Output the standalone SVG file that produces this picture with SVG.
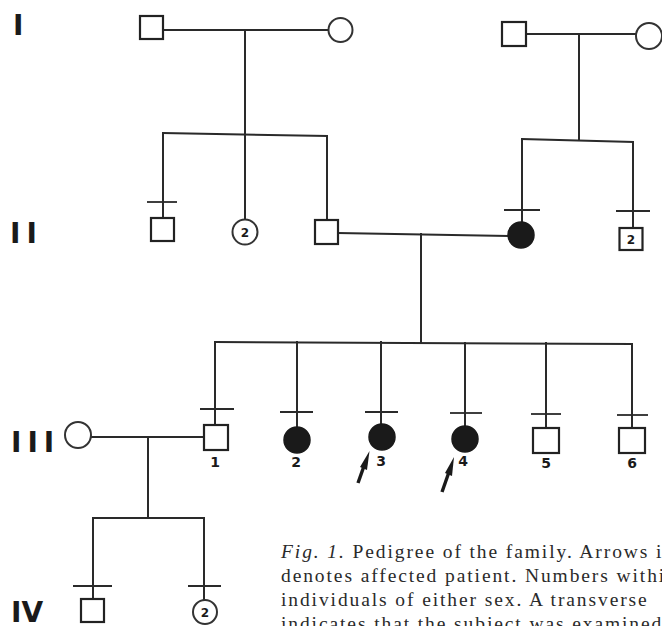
<svg xmlns="http://www.w3.org/2000/svg" width="662" height="626" viewBox="0 0 662 626">
<style>
.ln{stroke:#2a2a2a;stroke-width:2;fill:none;stroke-linecap:square}
.tk{stroke:#2a2a2a;stroke-width:1.8;fill:none}
.sq{stroke:#222;stroke-width:2.2;fill:#fff}
.ci{stroke:#333;stroke-width:2;fill:#fff}
.af{stroke:#1a1a1a;stroke-width:1.5;fill:#1a1a1a}
.gen{font-family:"DejaVu Sans",sans-serif;font-weight:bold;font-size:28px;fill:#1a1a1a}
.num{font-family:"DejaVu Sans",sans-serif;font-weight:bold;font-size:14px;fill:#1a1a1a;text-anchor:middle}
.in{font-family:"DejaVu Sans",sans-serif;font-weight:bold;font-size:12px;fill:#1a1a1a;text-anchor:middle}
.cap{font-family:"Liberation Serif","Times New Roman",serif;font-size:19.5px;fill:#2a2a2a;letter-spacing:1.9px}
</style>
<rect width="662" height="626" fill="#fff"/>
<g id="gen-labels">
<text class="gen" x="13" y="35" font-size="26">I</text>
<text class="gen" x="10" y="243" letter-spacing="6">II</text>
<text class="gen" x="11" y="452" letter-spacing="6">III</text>
<text class="gen" x="11" y="622">IV</text>
</g>
<g id="connectors">
<line class="ln" x1="163" y1="30" x2="328" y2="30"/>
<line class="ln" x1="245" y1="30" x2="245" y2="219"/>
<line class="ln" x1="163" y1="133" x2="327" y2="136"/>
<line class="ln" x1="163" y1="133" x2="163" y2="218"/>
<line class="ln" x1="327" y1="136" x2="327" y2="220"/>
<line class="ln" x1="526" y1="34" x2="636" y2="34"/>
<line class="ln" x1="579" y1="34" x2="579" y2="140"/>
<line class="ln" x1="522" y1="139" x2="633" y2="142"/>
<line class="ln" x1="522" y1="139" x2="522" y2="222"/>
<line class="ln" x1="633" y1="142" x2="633" y2="228"/>
<line class="ln" x1="338" y1="233" x2="508" y2="236"/>
<line class="ln" x1="421" y1="234" x2="421" y2="343"/>
<line class="ln" x1="215" y1="342" x2="632" y2="344"/>
<line class="ln" x1="215" y1="342" x2="215" y2="425"/>
<line class="ln" x1="297" y1="342" x2="297" y2="427"/>
<line class="ln" x1="381" y1="342" x2="381" y2="424"/>
<line class="ln" x1="465" y1="343" x2="465" y2="426"/>
<line class="ln" x1="546" y1="343" x2="546" y2="428"/>
<line class="ln" x1="632" y1="344" x2="632" y2="428"/>
<line class="ln" x1="91" y1="437" x2="204" y2="437"/>
<line class="ln" x1="148" y1="437" x2="148" y2="518"/>
<line class="ln" x1="93" y1="518" x2="204" y2="518"/>
<line class="ln" x1="93" y1="518" x2="93" y2="599"/>
<line class="ln" x1="204" y1="518" x2="204" y2="600"/>
<line class="tk" x1="147" y1="202" x2="177" y2="202"/>
<line class="tk" x1="504" y1="210" x2="540" y2="210"/>
<line class="tk" x1="616" y1="211" x2="650" y2="211"/>
<line class="tk" x1="200" y1="409" x2="234" y2="409"/>
<line class="tk" x1="280" y1="412" x2="313" y2="412"/>
<line class="tk" x1="365" y1="412" x2="398" y2="412"/>
<line class="tk" x1="450" y1="413" x2="482" y2="413"/>
<line class="tk" x1="531" y1="414" x2="561" y2="414"/>
<line class="tk" x1="617" y1="415" x2="648" y2="415"/>
<line class="tk" x1="73" y1="586" x2="112" y2="586"/>
<line class="tk" x1="188" y1="586" x2="221" y2="586"/>
</g>
<g id="I-1"><rect class="sq" x="140" y="16" width="23" height="23"/></g>
<g id="I-2"><circle class="ci" cx="340.5" cy="30" r="12"/></g>
<g id="I-3"><rect class="sq" x="502" y="22" width="24" height="24"/></g>
<g id="I-4"><circle class="ci" cx="649" cy="36" r="13"/></g>
<g id="II-1"><rect class="sq" x="151" y="218" width="23" height="23"/></g>
<g id="II-2"><circle class="ci" cx="245" cy="232" r="12.5"/><text class="in" x="245" y="236.5">2</text></g>
<g id="II-3"><rect class="sq" x="315" y="220" width="23" height="24"/></g>
<g id="II-4"><circle class="af" cx="521" cy="235" r="13"/></g>
<g id="II-5"><rect class="sq" x="619.5" y="228" width="23" height="22"/><text class="in" x="631" y="243.5">2</text></g>
<g id="III-spouse"><circle class="ci" cx="78" cy="435" r="13"/></g>
<g id="III-1"><rect class="sq" x="204" y="425" width="24" height="25"/><text class="num" x="215" y="467">1</text></g>
<g id="III-2"><circle class="af" cx="297" cy="440" r="13"/><text class="num" x="296" y="467">2</text></g>
<g id="III-3"><circle class="af" cx="382" cy="437" r="13"/><text class="num" x="381" y="466">3</text>
<line x1="358" y1="483" x2="364" y2="466" stroke="#1a1a1a" stroke-width="3.4"/><polygon points="369.5,451 367,470 360,467" fill="#1a1a1a"/></g>
<g id="III-4"><circle class="af" cx="465" cy="439" r="13"/><text class="num" x="463" y="466">4</text>
<line x1="442" y1="492" x2="449" y2="472" stroke="#1a1a1a" stroke-width="3.4"/><polygon points="454,457 452,476 445,473" fill="#1a1a1a"/></g>
<g id="III-5"><rect class="sq" x="533" y="428" width="26" height="25"/><text class="num" x="546" y="468">5</text></g>
<g id="III-6"><rect class="sq" x="619" y="428" width="26" height="25"/><text class="num" x="632" y="468">6</text></g>
<g id="IV-1"><rect class="sq" x="81" y="599" width="23" height="23"/></g>
<g id="IV-2"><circle class="ci" cx="205" cy="612" r="12"/><text class="in" x="205" y="616.5">2</text></g>
<g id="caption">
<text class="cap" x="281" y="558"><tspan font-style="italic">Fig. 1.</tspan> Pedigree of the family. Arrows i</text>
<text class="cap" x="281" y="582">denotes affected patient. Numbers withi</text>
<text class="cap" x="281" y="606">individuals of either sex. A transverse</text>
<text class="cap" x="281" y="630">indicates that the subject was examined</text>
</g>
</svg>
